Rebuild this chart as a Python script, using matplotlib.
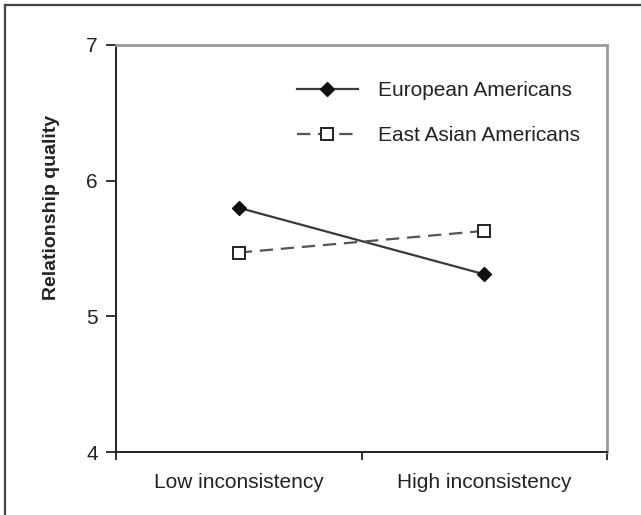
import matplotlib
matplotlib.use("Agg")
import matplotlib.pyplot as plt
from matplotlib.lines import Line2D

plt.rcParams['font.family'] = ['Liberation Sans', 'DejaVu Sans']

categories = ["Low inconsistency", "High inconsistency"]
european = [5.80, 5.31]
east_asian = [5.47, 5.63]
y_ticks = [4, 5, 6, 7]

W, H = 641, 515
fig = plt.figure(figsize=(W / 100, H / 100), dpi=100)
ax = fig.add_axes([116 / W, 1 - 452 / H, (607 - 116) / W, (452 - 45) / H])

xs = [0.5, 1.5]
ax.plot(xs, european, color='#3a3a3a', lw=1.6, marker='D', ms=6.8,
        mfc='#111111', mec='#111111', label='European Americans')
ax.plot(xs, east_asian, color='#555555', lw=1.6, linestyle=(0, (6, 3.5)),
        marker='s', ms=8, mfc='white', mec='#222222', mew=1.4,
        label='East Asian Americans')

ax.set_xlim(0, 2)
ax.set_ylim(4, 7)
ax.set_yticks(y_ticks)
ax.set_yticklabels([str(v) for v in y_ticks], fontsize=15, color='#222222')
ax.set_xticks([0, 1, 2])
ax.set_xticklabels([])
ax.set_xticks(xs, minor=True)
ax.set_xticklabels(categories, minor=True, fontsize=15, color='#222222')
ax.tick_params(axis='x', which='major', direction='out', length=6, width=1.2, color='#111111')
ax.tick_params(axis='x', which='minor', length=0, pad=15)
ax.tick_params(axis='y', direction='out', length=7, width=1.2, color='#111111', pad=6)

for s in ['left', 'bottom']:
    ax.spines[s].set_color('#222222')
    ax.spines[s].set_linewidth(1.4)
for s in ['top', 'right']:
    ax.spines[s].set_color('#9a9a9a')
    ax.spines[s].set_linewidth(2.0)

ax.set_ylabel('Relationship quality', fontsize=14, fontweight='bold', color='#222222')
ax.yaxis.set_label_coords(-0.115, 0.60)

ax.legend(loc='upper left', bbox_to_anchor=(0.369, 0.912), frameon=False,
          fontsize=15, handlelength=2.9, handletextpad=1.0, labelspacing=1.25,
          borderpad=0, borderaxespad=0, labelcolor='#222222')

# outer frame (top and left edges visible)
fig.add_artist(Line2D([5 / W, 1.0], [1 - 5 / H, 1 - 5 / H], transform=fig.transFigure,
                      color='#444444', lw=1.6))
fig.add_artist(Line2D([5 / W, 5 / W], [0, 1 - 5 / H], transform=fig.transFigure,
                      color='#444444', lw=1.6))

fig.savefig('out.png', dpi=100)
